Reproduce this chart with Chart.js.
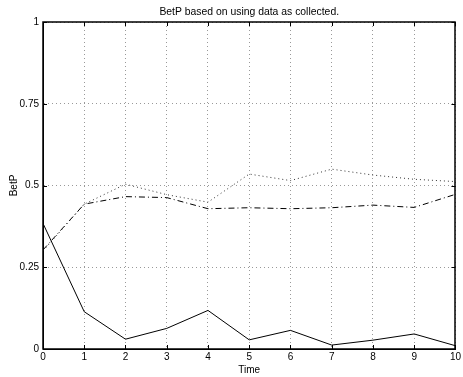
<!DOCTYPE html>
<html><head><meta charset="utf-8">
<script src="https://cdn.jsdelivr.net/npm/chart.js@4"></script>
<style>html,body{margin:0;padding:0;background:#fff}#c{display:block}</style>
</head><body>
<canvas id="c" width="463" height="377"></canvas>
<script>
const times = [0,1,2,3,4,5,6,7,8,9,10];
const solidSeries = [0.384,0.114,0.030,0.063,0.118,0.028,0.057,0.012,0.027,0.046,0.010];
const dottedSeries = [0.300,0.443,0.504,0.472,0.449,0.535,0.515,0.550,0.532,0.519,0.512];
const dashDotSeries = [0.303,0.443,0.466,0.463,0.429,0.432,0.429,0.432,0.440,0.433,0.473];
const yTicks = [0,0.25,0.5,0.75,1];
const yTickLabels = ['0','0.25','0.5','0.75','1'];
const titleText = 'BetP based on using data as collected.';
const xTitle = 'Time';
const yTitle = 'BetP';

const FONT = 'Liberation Sans, Arial, Helvetica, sans-serif';
const toPts = s => s.map((v,i)=>({x:times[i], y:v}));

const boxPlugin = {
  id:'box',
  afterDraw(chart){
    const {ctx, chartArea:a, scales:{x,y}} = chart;
    ctx.save();
    ctx.strokeStyle='#000'; ctx.lineWidth=1.5; ctx.setLineDash([]);
    ctx.strokeRect(Math.round(a.left), Math.round(a.top), Math.round(a.right-a.left), Math.round(a.bottom-a.top));
    ctx.lineWidth=1;
    ctx.beginPath();
    times.forEach(t=>{
      const px = Math.round(x.getPixelForValue(t))+0.5;
      ctx.moveTo(px,a.bottom); ctx.lineTo(px,a.bottom-4);
      ctx.moveTo(px,a.top); ctx.lineTo(px,a.top+4);
    });
    yTicks.forEach(v=>{
      const py = Math.round(y.getPixelForValue(v))+0.5;
      ctx.moveTo(a.left,py); ctx.lineTo(a.left+4,py);
      ctx.moveTo(a.right,py); ctx.lineTo(a.right-4,py);
    });
    ctx.stroke();
    ctx.fillStyle='#000';
    ctx.font='10.4px '+FONT;
    ctx.textAlign='center'; ctx.textBaseline='middle';
    ctx.fillText(titleText,(a.left+a.right)/2,12);
    ctx.restore();
  }
};

new Chart(document.getElementById('c'),{
  type:'line',
  data:{datasets:[
    {data:toPts(solidSeries),borderColor:'#000',borderWidth:1,pointRadius:0,tension:0,fill:false},
    {data:toPts(dottedSeries),borderColor:'#333',borderWidth:1,borderDash:[1,3],pointRadius:0,tension:0,fill:false},
    {data:toPts(dashDotSeries),borderColor:'#000',borderWidth:1,borderDash:[6,3,1,3],pointRadius:0,tension:0,fill:false}
  ]},
  options:{
    responsive:false, animation:false,
    layout:{padding:{top:22,right:5,left:0,bottom:0}},
    plugins:{legend:{display:false},tooltip:{enabled:false},title:{display:false}},
    scales:{
      x:{type:'linear',min:0,max:10,
        afterFit(s){s.height=28;},
        afterBuildTicks(s){s.ticks=times.map(v=>({value:v}));},
        ticks:{color:'#000',font:{size:10,family:FONT},padding:2,maxRotation:0,autoSkip:false},
        grid:{color:'#999',lineWidth:1,drawTicks:false},
        border:{display:true,color:'#000',dash:[1,3]},
        title:{display:true,text:xTitle,color:'#000',font:{size:10,family:FONT},padding:{top:0,bottom:1}}
      },
      y:{type:'linear',min:0,max:1,
        afterFit(s){s.width=43;},
        afterBuildTicks(s){s.ticks=yTicks.map(v=>({value:v}));},
        ticks:{color:'#000',font:{size:10,family:FONT},padding:4,callback:(v)=>yTickLabels[yTicks.indexOf(v)]},
        grid:{color:'#999',lineWidth:1,drawTicks:false},
        border:{display:true,color:'#000',dash:[1,3]},
        title:{display:true,text:yTitle,color:'#000',font:{size:10,family:FONT},padding:{top:8,bottom:0}}
      }
    }
  },
  plugins:[boxPlugin]
});
</script>
</body></html>
